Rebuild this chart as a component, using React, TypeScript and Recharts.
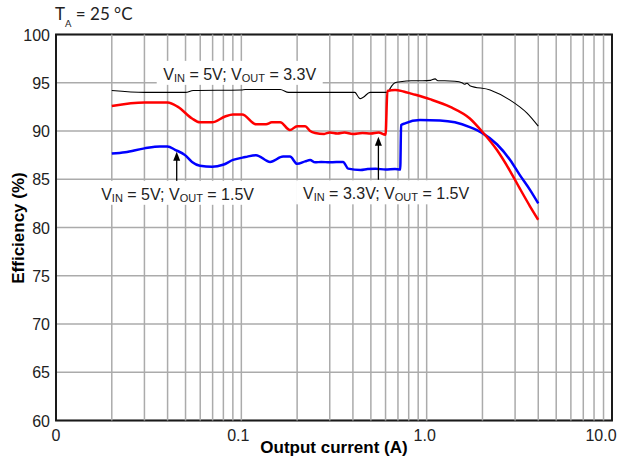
import React from 'react';
import {
  LineChart,
  Line,
  XAxis,
  YAxis,
  CartesianGrid,
  ReferenceArea,
  ReferenceDot,
  ReferenceLine,
} from 'recharts';

// ---------- data ----------
// V_IN = 5V; V_OUT = 3.3V (black)
const blackCurrent = [0.02, 0.03, 0.05, 0.055, 0.1, 0.105, 0.162, 0.18, 0.41, 0.425, 0.437, 0.455, 0.495, 0.61, 0.63, 0.65, 0.675, 0.72, 0.83, 0.95, 1.05, 1.11, 1.15, 1.25, 1.42, 1.55, 1.6, 1.65, 1.71, 2.2, 2.82, 3.48, 4.0];
const blackEff = [94.2, 94.0, 94.0, 94.2, 94.25, 94.3, 94.3, 94.0, 94.0, 93.6, 93.35, 93.5, 94.0, 94.0, 94.3, 94.7, 95.0, 95.1, 95.2, 95.2, 95.25, 95.4, 95.2, 95.2, 95.15, 95.0, 94.85, 94.95, 94.7, 94.25, 93.2, 91.85, 90.5];

// V_IN = 3.3V; V_OUT = 1.5V (red)
const redCurrent = [0.02, 0.03, 0.04, 0.0455, 0.0542, 0.0598, 0.0695, 0.0817, 0.0902, 0.101, 0.12, 0.136, 0.146, 0.162, 0.183, 0.2, 0.221, 0.235, 0.25, 0.28, 0.3, 0.33, 0.36, 0.4, 0.45, 0.5, 0.55, 0.6, 0.614, 0.675, 0.75, 0.834, 1.04, 1.34, 1.71, 1.99, 2.4, 2.82, 3.19, 3.61, 4.0];
const redEff = [92.6, 92.95, 92.95, 92.5, 91.3, 90.9, 90.9, 91.5, 91.7, 91.7, 90.7, 90.7, 90.9, 90.9, 90.1, 90.5, 90.5, 90.0, 89.8, 89.7, 89.85, 89.75, 89.85, 89.7, 89.8, 89.75, 89.85, 89.6, 94.15, 94.25, 94.1, 93.85, 93.3, 92.5, 91.3, 89.95, 88.0, 85.85, 84.0, 82.2, 80.8];

// V_IN = 5V; V_OUT = 1.5V (blue)
const blueCurrent = [0.02, 0.0236, 0.03, 0.0364, 0.04, 0.0439, 0.0497, 0.0542, 0.0598, 0.0695, 0.0796, 0.0902, 0.105, 0.12, 0.143, 0.168, 0.183, 0.2, 0.221, 0.235, 0.25, 0.27, 0.3, 0.354, 0.377, 0.44, 0.48, 0.53, 0.6, 0.675, 0.72, 0.728, 0.764, 0.92, 1.18, 1.42, 1.71, 1.99, 2.4, 2.82, 3.19, 3.61, 4.0];
const blueEff = [87.66, 87.8, 88.2, 88.4, 88.4, 88.05, 87.5, 86.8, 86.4, 86.3, 86.5, 87.0, 87.3, 87.5, 86.8, 87.35, 87.35, 86.6, 86.85, 87.0, 86.75, 86.8, 86.75, 86.8, 86.1, 85.95, 86.05, 86.1, 86.0, 86.05, 86.0, 90.6, 90.8, 91.15, 91.1, 90.9, 90.4, 89.8, 88.6, 87.0, 85.4, 83.9, 82.5];

const xTicks = [0.01, 0.1, 1, 10];
const xTickLabels = ['0', '0.1', '1.0', '10.0'];
const yTicks = [60, 65, 70, 75, 80, 85, 90, 95, 100];
const xGrid = [0.02, 0.03, 0.04, 0.05, 0.06, 0.07, 0.08, 0.09, 0.1, 0.2, 0.3, 0.4, 0.5, 0.6, 0.7, 0.8, 0.9, 1, 2, 3, 4, 5, 6, 7, 8, 9];

// annotations: label parts and anchor (current, efficiency)
const annotLabels = [
  { vin: '5V', vout: '3.3V', x: 0.098, y: 95.3, w: 166 },
  { vin: '5V', vout: '1.5V', x: 0.0453, y: 82.87, w: 166 },
  { vin: '3.3V', vout: '1.5V', x: 0.604, y: 82.92, w: 180 },
];
const arrows = [
  { x: 0.0448, from: 84.6, to: 87.85 },
  { x: 0.549, from: 84.95, to: 89.4 },
];

const zip = (xs: number[], ys: number[]) => xs.map((x, i) => ({ x, y: ys[i] }));
const blackData = zip(blackCurrent, blackEff);
const redData = zip(redCurrent, redEff);
const blueData = zip(blueCurrent, blueEff);

const FONT = '"Liberation Sans", Arial, sans-serif';
const TXT = '#222';

const XTick = (props: any) => {
  const { x, y, payload } = props;
  const i = xTicks.indexOf(payload.value);
  const nudge = [0, -3, -2, -11][i] ?? 0;
  return (
    <text x={x + nudge} y={y + 20.5} textAnchor="middle" fontSize={16} fontFamily={FONT} fill={TXT}>
      {xTickLabels[i]}
    </text>
  );
};

const YTick = (props: any) => {
  const { x, y, payload } = props;
  return (
    <text x={x - 6} y={y + 6} textAnchor="end" fontSize={16} fontFamily={FONT} fill={TXT}>
      {payload.value}
    </text>
  );
};

const Annotation = (a: { vin: string; vout: string; w: number }) => (props: any) => {
  const { cx, cy } = props;
  return (
    <g>
      <rect x={cx - a.w / 2} y={cy - 19} width={a.w} height={24} fill="#fff" />
      <text x={cx} y={cy} textAnchor="middle" fontSize={16} fontFamily={FONT} fill={TXT}>
        <tspan>V</tspan>
        <tspan fontSize={11} dy={2}>IN</tspan>
        <tspan dy={-2}>{` = ${a.vin}; V`}</tspan>
        <tspan fontSize={11} dy={2}>OUT</tspan>
        <tspan dy={-2}>{` = ${a.vout}`}</tspan>
      </text>
    </g>
  );
};

const Arrow = (props: any) => {
  const { x1, y1, x2, y2 } = props;
  return (
    <g>
      <line x1={x1} y1={y1} x2={x2} y2={y2 + 6} stroke="#000" strokeWidth={1.3} />
      <path d={`M${x2},${y2} L${x2 - 3.5},${y2 + 9} L${x2 + 3.5},${y2 + 9} Z`} fill="#000" />
    </g>
  );
};

export default function App() {
  return (
    <div style={{ position: 'absolute', left: 0, top: 0, width: 619, height: 458, background: '#fff' }}>
      <LineChart width={619} height={458} margin={{ top: 34.5, right: 7, left: 0, bottom: 0 }}>
        <CartesianGrid stroke="#ababab" strokeWidth={1.5} vertical={false} />
        <XAxis
          dataKey="x"
          type="number"
          scale="log"
          domain={[0.01, 10]}
          allowDataOverflow
          ticks={xTicks}
          interval={0}
          tick={<XTick />}
          tickLine={false}
          axisLine={false}
          tickSize={0}
          tickMargin={0}
          height={37.5}
        />
        <YAxis
          type="number"
          domain={[60, 100]}
          ticks={yTicks}
          interval={0}
          tick={<YTick />}
          tickLine={false}
          axisLine={false}
          tickSize={0}
          tickMargin={0}
          width={56}
        />
        {xGrid.map((v) => (
          <ReferenceLine key={'g' + v} x={v} stroke="#ababab" strokeWidth={1.5} />
        ))}
        <Line data={blackData} dataKey="y" stroke="#000" strokeWidth={1.1} dot={false} isAnimationActive={false} type="monotoneX" />
        <Line data={blueData} dataKey="y" stroke="#0000ff" strokeWidth={2.5} dot={false} isAnimationActive={false} type="monotoneX" />
        <Line data={redData} dataKey="y" stroke="#ff0000" strokeWidth={2.5} dot={false} isAnimationActive={false} type="monotoneX" />
        <ReferenceArea x1={0.01} x2={10} y1={60} y2={100} fill="none" stroke="#1a1a1a" strokeWidth={2} />
        {annotLabels.map((a, i) => (
          <ReferenceDot key={'a' + i} x={a.x} y={a.y} r={0} shape={Annotation(a)} />
        ))}
        {arrows.map((a, i) => (
          <ReferenceLine
            key={'r' + i}
            segment={[{ x: a.x, y: a.from }, { x: a.x, y: a.to }]}
            shape={(p: any) => <Arrow {...p} />}
          />
        ))}
      </LineChart>
      <svg width={619} height={458} style={{ position: 'absolute', left: 0, top: 0, pointerEvents: 'none' }}>
        <text x={55} y={20} fontSize={17} fontFamily="Lato, 'Open Sans', sans-serif" fill={TXT}>
          <tspan>T</tspan>
          <tspan fontSize={9.5} dy={6.5}>A</tspan>
          <tspan dy={-6.5}>{' = 25 °C'}</tspan>
        </text>
        <text x={334} y={452.5} textAnchor="middle" fontSize={17} fontWeight="bold" fontFamily={FONT} fill="#000">
          Output current (A)
        </text>
        <text
          x={23.5}
          y={228}
          textAnchor="middle"
          fontSize={17}
          fontWeight="bold"
          fontFamily={FONT}
          fill="#000"
          transform="rotate(-90 23.5 228)"
        >
          Efficiency (%)
        </text>
      </svg>
    </div>
  );
}
